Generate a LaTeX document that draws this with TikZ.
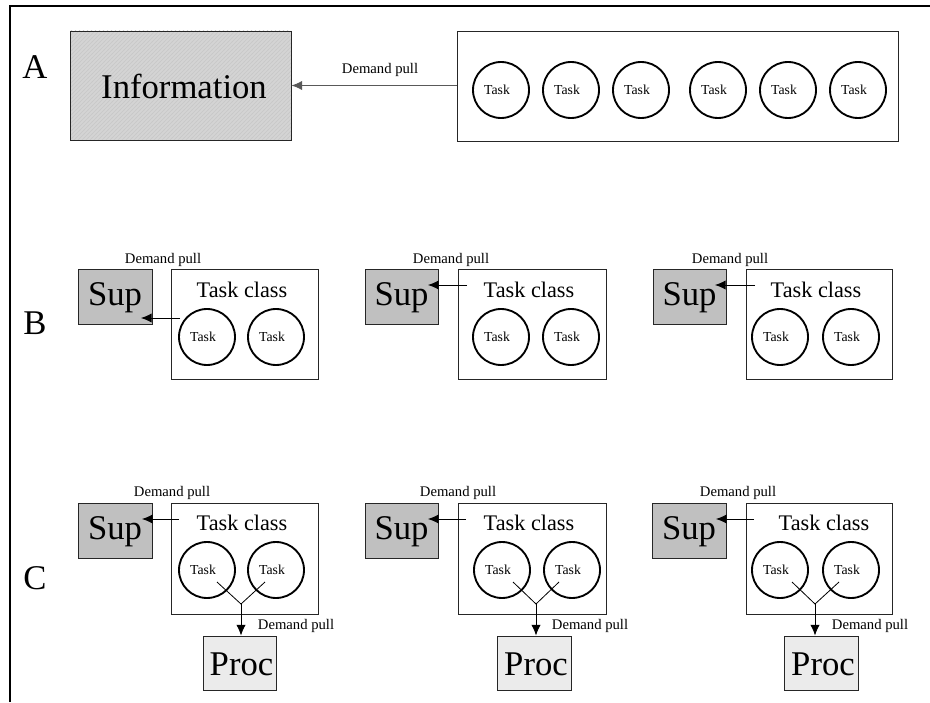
\documentclass[tikz,border=0pt]{standalone}
\usepackage{fontspec}
\setmainfont{Liberation Serif}
\usetikzlibrary{arrows.meta,fit,patterns}

\definecolor{supfill}{HTML}{C0C0C0}
\definecolor{procfill}{HTML}{EBEBEB}
\definecolor{infofill}{HTML}{D4D4D4}

\begin{document}
\begin{tikzpicture}[x=0.75pt,y=-0.75pt,
  frame/.style={line width=1.6pt},
  box/.style={draw=black!85,line width=0.7pt,inner sep=0pt},
  supbox/.style={box,fill=supfill},
  procbox/.style={box,fill=procfill},
  infobox/.style={box,fill=infofill,
    path picture={\fill[pattern=north east lines,pattern color=black!22]
      (path picture bounding box.south west) rectangle (path picture bounding box.north east);}},
  bigtext/.style={font=\fontsize{26}{26}\selectfont,inner sep=0pt},
  taskc/.style={circle,draw,line width=1.4pt,minimum size=42pt,inner sep=0pt},
  tasklbl/.style={font=\fontsize{10.3}{10.3}\selectfont,inner sep=0pt},
  classlbl/.style={font=\fontsize{16.7}{16.7}\selectfont,inner sep=0pt},
  pulllbl/.style={font=\fontsize{11}{11}\selectfont,inner sep=0pt},
  rowlbl/.style={font=\fontsize{26}{26}\selectfont,inner sep=0pt},
  pull/.style={-{Latex[length=8pt,width=7pt]},line width=0.7pt},
  fork/.style={line width=0.6pt}]

\useasboundingbox (0,0) rectangle (930,702);

% outer frame: top and left rules only
\draw[frame] (10,702) -- (10,6) -- (930,6);

% ---------- Row A ----------
\node[rowlbl] (rowA) at (35,67) {A};
\node[infobox,fit={(70,31) (291,140)}] (info) {};
\node[bigtext] (infotxt) at (184,86) {Information};
\node[box,fit={(457,31) (898,141)}] (alltasks) {};
\foreach \i/\x in {1/501,2/571,3/641,4/718,5/788,6/858}{
  \node[taskc] (a\i) at (\x,90) {};
  \node[tasklbl] (a\i t) at ([xshift=-3pt]a\i.center) {Task};
}
\node[pulllbl] (pullA) at (380,70) {Demand pull};
\draw[pull,draw=black!65] (alltasks.west |- info.east) -- (info.east);

% ---------- Row B ----------
\node[rowlbl] (rowB) at (35,323) {B};
% group data: index / sup left / sup right / class left / class right /
% circle 1 x / circle 2 x / class label x / pull label x / arrow start x / arrow tip x / arrow y
\foreach \g/\sl/\sr/\cl/\cr/\ca/\cb/\lx/\px/\as/\at/\ay in
  {1/78/152/171/318/207/276/242/163/180/141/318,
   2/365/438/458/606/501/571/529/451/467/428/285,
   3/653/726/746/892/780/851/816/730/755/715/285}{
  \node[supbox,fit={(\sl,269) (\sr,324)}] (bsup\g) {};
  \node[bigtext] (bsuptxt\g) at ([yshift=-1pt]bsup\g.center) {Sup};
  \node[box,fit={(\cl,269) (\cr,379)}] (bcls\g) {};
  \node[classlbl] (bclslbl\g) at (\lx,290) {Task class};
  \node[taskc] (bt\g a) at (\ca,337) {};
  \node[taskc] (bt\g b) at (\cb,337) {};
  \node[tasklbl] (bt\g at) at ([xshift=-3pt]bt\g a.center) {Task};
  \node[tasklbl] (bt\g bt) at ([xshift=-3pt]bt\g b.center) {Task};
  \node[pulllbl] (bpull\g) at (\px,260) {Demand pull};
  \coordinate (bfrom\g) at (\as,\ay);
  \coordinate (bto\g) at (\at,\ay);
  \draw[pull] (bfrom\g) -- (bto\g);
}

% ---------- Row C ----------
\node[rowlbl] (rowC) at (35,578) {C};
% group data: index / sup left / sup right / class left / class right /
% circle 1 x / circle 2 x / class label x / upper pull label x / arrow start x / arrow tip x /
% fork x / fork left x / fork right x / proc left / proc right / lower pull label x
\foreach \g/\sl/\sr/\cl/\cr/\ca/\cb/\lx/\px/\as/\at/\fx/\fl/\fr/\pl/\pr/\qx in
  {1/78/152/171/318/207/276/242/172/179/142/241/217/265/203/276/296,
   2/365/438/458/606/502/572/529/458/466/428/536/513/559/497/571/590,
   3/652/726/746/892/780/851/824/738/754/716/815/792/839/784/858/870}{
  \node[supbox,fit={(\sl,503) (\sr,558)}] (csup\g) {};
  \node[bigtext] (csuptxt\g) at ([yshift=-1pt]csup\g.center) {Sup};
  \node[box,fit={(\cl,503) (\cr,614)}] (ccls\g) {};
  \node[classlbl] (cclslbl\g) at (\lx,523) {Task class};
  \node[taskc] (ct\g a) at (\ca,570) {};
  \node[taskc] (ct\g b) at (\cb,570) {};
  \node[tasklbl] (ct\g at) at ([xshift=-3pt]ct\g a.center) {Task};
  \node[tasklbl] (ct\g bt) at ([xshift=-3pt]ct\g b.center) {Task};
  \node[pulllbl] (cpull\g) at (\px,493) {Demand pull};
  \coordinate (cfrom\g) at (\as,519);
  \coordinate (cto\g) at (\at,519);
  \draw[pull] (cfrom\g) -- (cto\g);
  % fork joining both tasks into one demand line
  \coordinate (fork\g) at (\fx,604);
  \coordinate (forkl\g) at (\fl,582);
  \coordinate (forkr\g) at (\fr,582);
  \draw[fork] (forkl\g) -- (fork\g) -- (forkr\g);
  \node[procbox,fit={(\pl,636) (\pr,690)}] (proc\g) {};
  \node[bigtext] (proctxt\g) at ([xshift=1.5pt,yshift=-1pt]proc\g.center) {Proc};
  \draw[pull] (fork\g) -- (fork\g |- proc\g.north);
  \node[pulllbl] (cpulllow\g) at (\qx,626) {Demand pull};
}
\end{tikzpicture}
\end{document}
